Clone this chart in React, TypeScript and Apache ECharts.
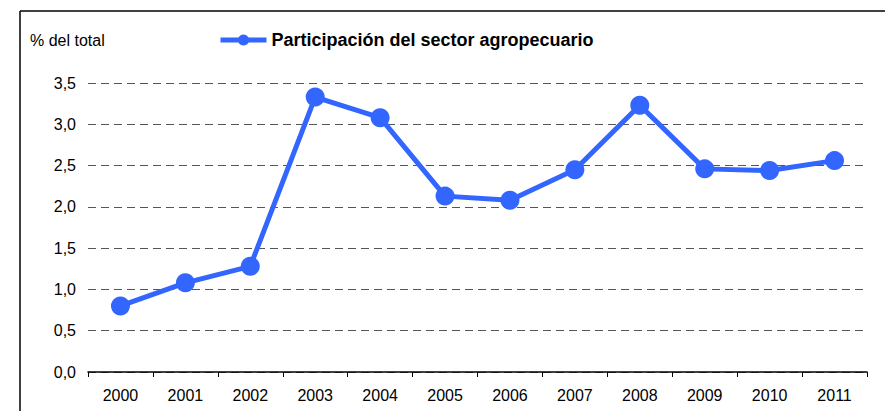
import { useEffect, useRef } from "react";
import * as echarts from "echarts";

const years = ["2000", "2001", "2002", "2003", "2004", "2005", "2006", "2007", "2008", "2009", "2010", "2011"];
const participacion = [0.8, 1.08, 1.28, 3.33, 3.08, 2.13, 2.08, 2.45, 3.23, 2.46, 2.44, 2.56];
const seriesName = "Participación del sector agropecuario";
const yAxisTitle = "% del total";

const font = "'Liberation Sans', Arial, sans-serif";

export default function App() {
  const chartRef = useRef<HTMLDivElement>(null);

  useEffect(() => {
    if (!chartRef.current) return;
    document.body.style.margin = "0";
    document.body.style.overflow = "hidden";
    const chart = echarts.init(chartRef.current, null, { renderer: "svg" });

    chart.setOption({
      animation: false,
      backgroundColor: "#ffffff",
      textStyle: { fontFamily: font },
      grid: { left: 88, right: 18, top: 83, bottom: 39 },
      legend: {
        data: [seriesName],
        left: 218,
        top: 31,
        padding: 0,
        itemWidth: 46,
        itemHeight: 14,
        itemGap: 3,
        lineStyle: { width: 5 },
        textStyle: { fontFamily: font, fontSize: 18, fontWeight: "bold", color: "#000" },
      },
      graphic: [
        {
          type: "line",
          shape: { x1: 20, y1: 11, x2: 885, y2: 11 },
          style: { stroke: "#000", lineWidth: 1.5 },
          silent: true,
        },
        {
          type: "line",
          shape: { x1: 20, y1: 11, x2: 20, y2: 411 },
          style: { stroke: "#000", lineWidth: 1.5 },
          silent: true,
        },
        {
          type: "text",
          left: 30,
          top: 32,
          style: { text: yAxisTitle, fontFamily: font, fontSize: 16, fill: "#000" },
        },
      ],
      xAxis: {
        type: "category",
        data: years,
        boundaryGap: true,
        axisLine: { show: true, lineStyle: { color: "#000", width: 1.5 } },
        axisTick: { show: true, length: 5, lineStyle: { color: "#000", width: 1 } },
        axisLabel: { color: "#000", fontSize: 16, margin: 15, fontFamily: font },
        splitLine: { show: false },
      },
      yAxis: {
        type: "value",
        min: 0,
        max: 3.5,
        interval: 0.5,
        axisLine: { show: false },
        axisTick: { show: false },
        axisLabel: {
          color: "#000",
          fontSize: 16,
          margin: 12,
          fontFamily: font,
          formatter: (v: number) => v.toFixed(1).replace(".", ","),
        },
        splitLine: {
          show: true,
          lineStyle: { color: "#555", width: 1, type: [8, 5] },
        },
      },
      series: [
        {
          name: seriesName,
          type: "line",
          data: participacion,
          symbol: "circle",
          symbolSize: 19,
          lineStyle: { color: "#3366ff", width: 5 },
          itemStyle: { color: "#3366ff" },
        },
      ],
    });

    return () => {
      chart.dispose();
    };
  }, []);

  return (
    <div
      ref={chartRef}
      style={{ position: "fixed", left: 0, top: 0, width: 885, height: 411, overflow: "hidden" }}
    />
  );
}
